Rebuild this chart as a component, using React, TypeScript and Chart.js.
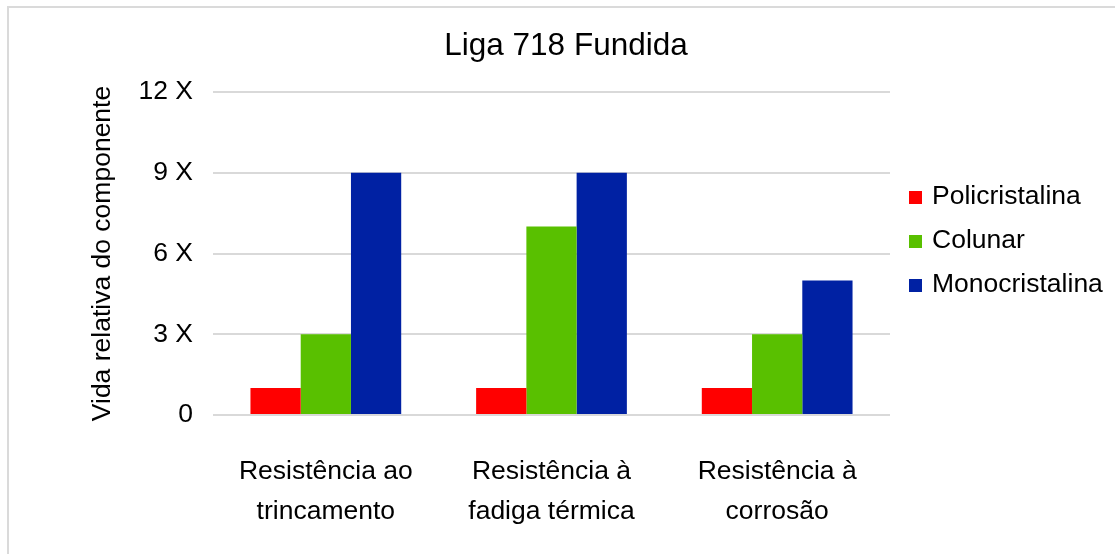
import React, { useEffect, useRef } from "react";
import { Chart, registerables } from "chart.js";

Chart.register(...registerables);

const categories: string[][] = [
  ["Resistência ao", "trincamento"],
  ["Resistência à", "fadiga térmica"],
  ["Resistência à", "corrosão"],
];
const seriesNames = ["Policristalina", "Colunar", "Monocristalina"];
const policristalina = [1, 1, 1];
const colunar = [3, 7, 3];
const monocristalina = [9, 9, 5];
const seriesColors = ["#ff0000", "#59c000", "#0021a3"];
const yTicks = [0, 3, 6, 9, 12];
const titleText = "Liga 718 Fundida";
const yTitle = "Vida relativa do componente";

const FONT = "'Liberation Sans', Arial, sans-serif";

const legendTitlePlugin = {
  id: "customLegendTitle",
  afterDraw(chart: any) {
    const ctx = chart.ctx;
    ctx.save();
    // title
    ctx.fillStyle = "#000";
    ctx.font = `31.5px ${FONT}`;
    ctx.textBaseline = "middle";
    ctx.textAlign = "center";
    ctx.fillText(titleText, 566, 46);
    // legend
    const startY = 197;
    const step = 44;
    chart.data.datasets.forEach((ds: any, i: number) => {
      const cy = startY + i * step;
      ctx.fillStyle = ds.backgroundColor;
      ctx.fillRect(909, cy - 6, 13, 13);
      ctx.fillStyle = "#000";
      ctx.font = `26.5px ${FONT}`;
      ctx.textBaseline = "middle";
      ctx.textAlign = "left";
      ctx.fillText(ds.label, 932, cy);
    });
    ctx.restore();
  },
};

export default function App() {
  const ref = useRef<HTMLCanvasElement | null>(null);
  useEffect(() => {
    if (!ref.current) return;
    const data = [policristalina, colunar, monocristalina];
    const chart = new Chart(ref.current, {
      type: "bar",
      data: {
        labels: categories,
        datasets: seriesNames.map((name, i) => ({
          label: name,
          data: data[i],
          backgroundColor: seriesColors[i],
          borderWidth: 0,
          barPercentage: 1,
          categoryPercentage: 0.668,
        })),
      },
      options: {
        animation: false,
        responsive: false,
        maintainAspectRatio: false,
        layout: { padding: { left: 0, right: 225, top: 92, bottom: 0 } },
        plugins: {
          legend: { display: false },
          tooltip: { enabled: false },
          title: { display: false },
        },
        scales: {
          x: {
            grid: { display: false, drawTicks: false },
            border: { display: false },
            ticks: {
              color: "#000",
              font: { family: FONT, size: 26.5, lineHeight: 40 / 26.5 },
              padding: 36.5,
              maxRotation: 0,
              autoSkip: false,
            },
            afterFit: (s: any) => {
              s.height = 139;
            },
          },
          y: {
            min: 0,
            max: 12,
            afterBuildTicks: (s: any) => {
              s.ticks = yTicks.map((v) => ({ value: v }));
            },
            grid: { color: "#d9d9d9", lineWidth: 2, drawTicks: false },
            border: { display: false },
            ticks: {
              color: "#000",
              font: { family: FONT, size: 26.5 },
              padding: 20,
              callback: (v: any) => (Number(v) === 0 ? "0" : `${v} X`),
            },
            title: {
              display: true,
              text: yTitle,
              color: "#000",
              font: { family: FONT, size: 26.5 },
              padding: { top: 87, bottom: 0 },
            },
            afterFit: (s: any) => {
              s.width = 213;
            },
          },
        },
      },
      plugins: [legendTitlePlugin],
    });
    return () => chart.destroy();
  }, []);

  return (
    <div
      style={{
        position: "fixed",
        left: 0,
        top: 0,
        width: 1115,
        height: 554,
        overflow: "hidden",
        background: "#fff",
      }}
    >
      <div
        style={{
          position: "absolute",
          left: 7,
          top: 6,
          width: 1300,
          height: 800,
          border: "2px solid #dadada",
        }}
      />
      <canvas
        ref={ref}
        width={1115}
        height={554}
        style={{ position: "absolute", left: 0, top: 0 }}
      />
    </div>
  );
}
